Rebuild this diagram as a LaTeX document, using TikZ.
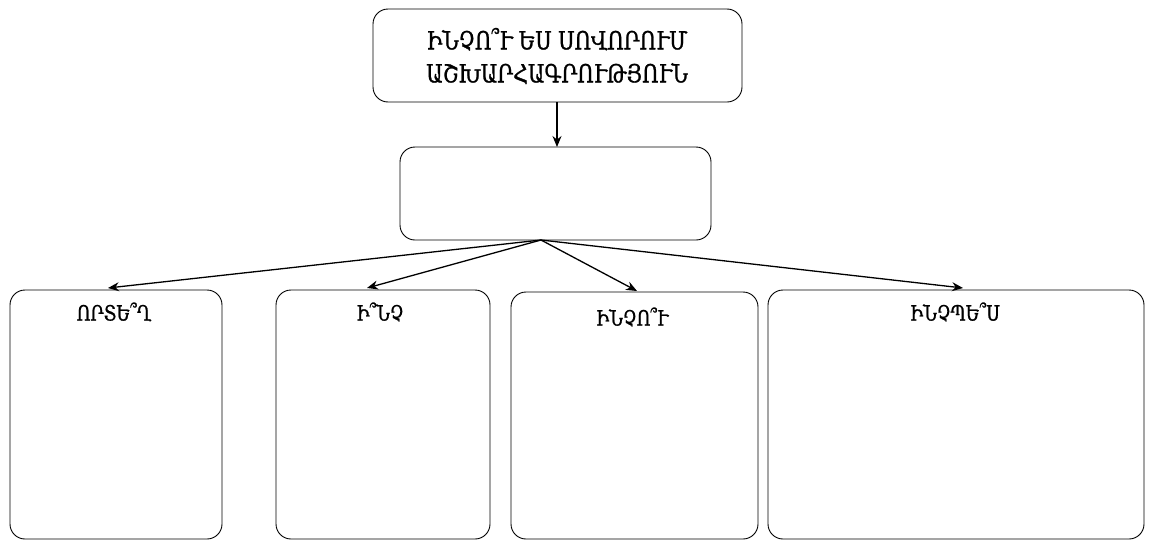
\documentclass[tikz,border=0pt]{standalone}
\usepackage{fontspec}
\setmainfont{DejaVu Serif}[FakeBold=1.2]
\usetikzlibrary{arrows.meta}
\begin{document}
\begin{tikzpicture}[x=1pt,y=-1pt,
  box/.style={draw=black,line width=0.9pt,rounded corners=15pt,fill=white},
  lbl/.style={font=\fontsize{21}{19}\selectfont,inner sep=0pt,xscale=0.82,transform shape},
  conn/.style={line width=1.3pt,-{Stealth[length=11pt,width=9pt]}}]
\useasboundingbox (0,0) rectangle (1149,541);
\draw[box] (373,9) rectangle (742,102);
\node[font=\fontsize{25}{33}\selectfont,align=center,xscale=0.82,transform shape] (title) at (557,56) {ԻՆՉՈ՞Ւ ԵՍ ՍՈՎՈՐՈՒՄ\\ԱՇԽԱՐՀԱԳՐՈՒԹՅՈՒՆ};
\coordinate (tb) at (557,102);
\draw[box] (400,147) rectangle (711,240);
\coordinate (mt) at (557,147);
\coordinate (mb) at (541,240);
\draw[box] (10,290) rectangle (222,539);
\draw[box] (276,290) rectangle (490,539);
\draw[box] (511,292) rectangle (758,539);
\draw[box] (768,290) rectangle (1144,539);
\coordinate (b1) at (108,288);
\coordinate (b2) at (367,288);
\coordinate (b3) at (637,291);
\coordinate (b4) at (963,288);
\node[lbl] (l1) at (114,312) {ՈՐՏԵ՞Ղ};
\node[lbl] (l2) at (380,312) {Ի՞ՆՉ};
\node[lbl] (l3) at (632,317) {ԻՆՉՈ՞Ւ};
\node[lbl] (l4) at (955,312) {ԻՆՉՊԵ՞Ս};
\draw[conn] (tb) -- (mt);
\draw[conn] (mb) -- (b1);
\draw[conn] (mb) -- (b2);
\draw[conn] (mb) -- (b3);
\draw[conn] (mb) -- (b4);
\end{tikzpicture}
\end{document}
